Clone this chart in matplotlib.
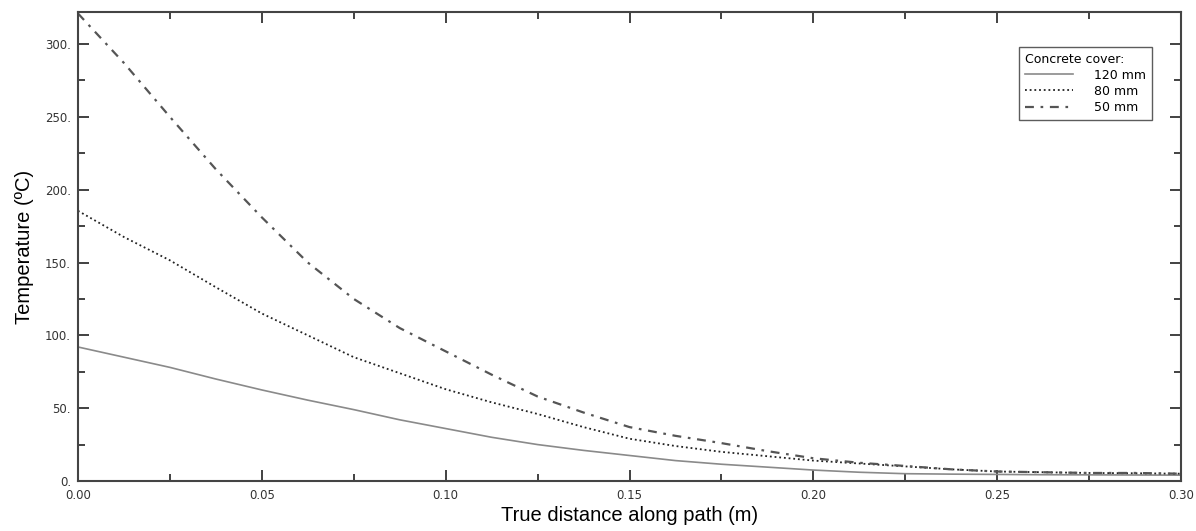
import matplotlib
matplotlib.use("Agg")
import matplotlib.pyplot as plt
from matplotlib.ticker import MultipleLocator, FuncFormatter

# Data
distance_m = [0.0, 0.0125, 0.025, 0.0375, 0.05, 0.0625, 0.075, 0.0875, 0.10,
              0.1125, 0.125, 0.1375, 0.15, 0.1625, 0.175, 0.1875, 0.20,
              0.2125, 0.225, 0.2375, 0.25, 0.2625, 0.275, 0.2875, 0.30]
temp_120mm = [92, 85, 78, 70, 62.5, 55.5, 49, 42, 36,
              30, 25, 21, 17.5, 14, 11.5, 9.5, 7.5,
              6, 5, 4.7, 4.5, 4.3, 4.2, 4.1, 4.0]
temp_80mm = [185.5, 167.5, 151.5, 133, 115, 100, 85, 74, 63,
             54, 46, 37, 29, 24, 20, 17, 14,
             12, 10, 8, 6.5, 6, 5.5, 5.3, 5.0]
temp_50mm = [321, 287, 250, 214, 181, 150, 125, 105, 89,
             73, 58, 47, 37, 31, 26, 20.5, 15.6,
             12.5, 10.3, 8, 6.5, 6, 5.5, 5.5, 5.0]
series_labels = ["120 mm", "80 mm", "50 mm"]

fig = plt.figure(figsize=(11.96, 5.31), dpi=100)
ax = fig.add_axes([0.0652, 0.0942, 0.9223, 0.8832])

ax.plot(distance_m, temp_120mm, color="#8a8a8a", lw=1.2, ls="-", label=series_labels[0])
ax.plot(distance_m, temp_80mm, color="#222222", lw=1.3, ls=(0, (1, 1.6)), label=series_labels[1])
ax.plot(distance_m, temp_50mm, color="#555555", lw=1.6, ls=(0, (4, 3, 1.2, 3)), label=series_labels[2])

ax.set_xlim(0, 0.30)
ax.set_ylim(0, 322)

ax.xaxis.set_major_locator(MultipleLocator(0.05))
ax.xaxis.set_minor_locator(MultipleLocator(0.025))
ax.yaxis.set_major_locator(MultipleLocator(50))
ax.yaxis.set_minor_locator(MultipleLocator(25))
ax.xaxis.set_major_formatter(FuncFormatter(lambda v, p: f"{v:.2f}"))
ax.yaxis.set_major_formatter(FuncFormatter(lambda v, p: f"{v:.0f}."))

ax.tick_params(which="both", direction="in", top=True, right=True,
               color="#333333", width=1.3, labelsize=8.5, labelcolor="#333333")
ax.tick_params(axis="y", pad=5)
ax.tick_params(axis="x", pad=5.5)
ax.tick_params(which="major", length=8)
ax.tick_params(which="minor", length=5)
for s in ax.spines.values():
    s.set_linewidth(1.5)
    s.set_color("#444444")

ax.set_ylabel("Temperature (ºC)", fontsize=14.5, family="Liberation Sans", labelpad=8)
ax.set_xlabel("True distance along path (m)", fontsize=14.5, family="Liberation Sans", labelpad=3)

leg = ax.legend(title="Concrete cover:", loc="upper right", bbox_to_anchor=(0.9737, 0.9254),
                borderaxespad=0, fontsize=9, title_fontsize=9, frameon=True, fancybox=False,
                edgecolor="#333333", handlelength=3.8, handletextpad=1.75,
                borderpad=0.45, labelspacing=0.25, alignment="left")
leg.get_frame().set_linewidth(1.0)

fig.savefig("out.png", dpi=100)
